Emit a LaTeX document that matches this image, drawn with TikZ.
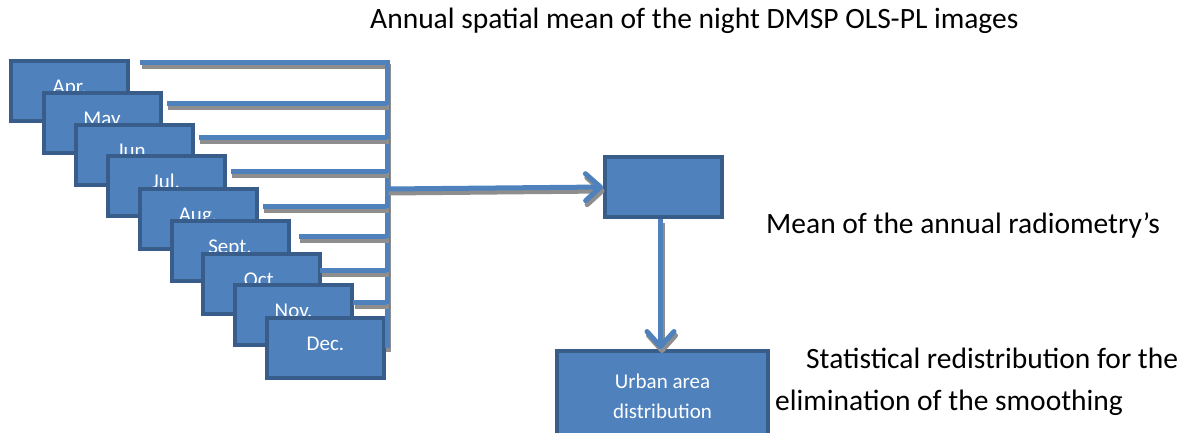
\documentclass[tikz,border=0pt]{standalone}
\usepackage{fontspec}
\setmainfont{Carlito}
\usetikzlibrary{arrows.meta,positioning}
\definecolor{olsblue}{HTML}{4F81BD}
\definecolor{olsedge}{HTML}{385D8A}
\definecolor{olsshade}{HTML}{8E8E8E}
\tikzset{
  panel/.style={draw=olsedge, fill=olsblue, line width=4pt, minimum width=117pt,
    minimum height=60pt, inner sep=0pt, text=white, font=\fontsize{21}{30}\selectfont},
  monthbox/.style={panel, text height=12pt, text depth=6.5pt},
  feed/.style={draw=olsblue, line width=5pt,
    preaction={draw=olsshade, line width=5pt, transform canvas={shift={(1.5pt,-4pt)}}}},
  barb/.style={-{Straight Barb[length=15pt,width=27pt,round]}},
  caption/.style={anchor=base west, inner sep=0pt, font=\fontsize{29.5}{34}\selectfont},
}

\begin{document}
\begin{tikzpicture}[x=1pt,y=1pt]
  \useasboundingbox (0,0) rectangle (1186,-432);
  % monthly images
  \node[monthbox] (apr) at (69.5,-91) {Apr.};
  \node[monthbox] (may) at (102,-123) {May};
  \node[monthbox] (jun) at (134,-155) {Jun.};
  \node[monthbox] (jul) at (166,-186) {Jul.};
  \node[monthbox] (aug) at (198,-219) {Aug.};
  \node[monthbox] (sep) at (230,-250.5) {Sept.};
  \node[monthbox] (oct) at (261.5,-283.5) {Oct.};
  \node[monthbox] (nov) at (293.5,-315) {Nov.};
  \node[monthbox] (dec) at (325.5,-347.5) {Dec.};
  % joints on the collecting bar
  \coordinate (j1) at (387,-62);
  \coordinate (j2) at (387,-103);
  \coordinate (j3) at (387,-137);
  \coordinate (j4) at (387,-171);
  \coordinate (j5) at (387,-206);
  \coordinate (j6) at (387,-236);
  \coordinate (j7) at (387,-270);
  \coordinate (j8) at (387,-302);
  \coordinate (jm) at (387,-189);
  \coordinate (jbot) at (387,-348);
  \draw[feed] ([xshift=10]apr.east |- j1) -| (jbot);
  \draw[feed] ([xshift=4]may.east |- j2) -- (j2);
  \draw[feed] ([xshift=4]jun.east |- j3) -- (j3);
  \draw[feed] ([xshift=4]jul.east |- j4) -- (j4);
  \draw[feed] ([xshift=4]aug.east |- j5) -- (j5);
  \draw[feed] ([xshift=8]sep.east |- j6) -- (j6);
  \draw[feed] ([xshift=-2]oct.east |- j7) -- (j7);
  \draw[feed] ([xshift=-1]nov.east |- j8) -- (j8);
  % mean and distribution
  \node[panel] (mean) at (663.5,-187) {};
  \node[panel, minimum width=211pt, minimum height=91pt, anchor=north, align=center]
    (urban) at (662.5,-349) {Urban area\\distribution};
  \draw[feed, barb] (jm) -- (mean.west);
  \draw[feed, barb] ([xshift=-3]mean.south) -- ([xshift=-3]mean.south |- urban.north);
  % captions
  \node[caption] (t1) at (370,-28) {Annual spatial mean of the night DMSP OLS-PL images};
  \node[caption] (t2) at (766,-233) {Mean of the annual radiometry’s};
  \node[caption] (t3) at (806,-368) {Statistical redistribution for the};
  \node[caption] (t4) at (775,-410) {elimination of the smoothing};
\end{tikzpicture}
\end{document}
